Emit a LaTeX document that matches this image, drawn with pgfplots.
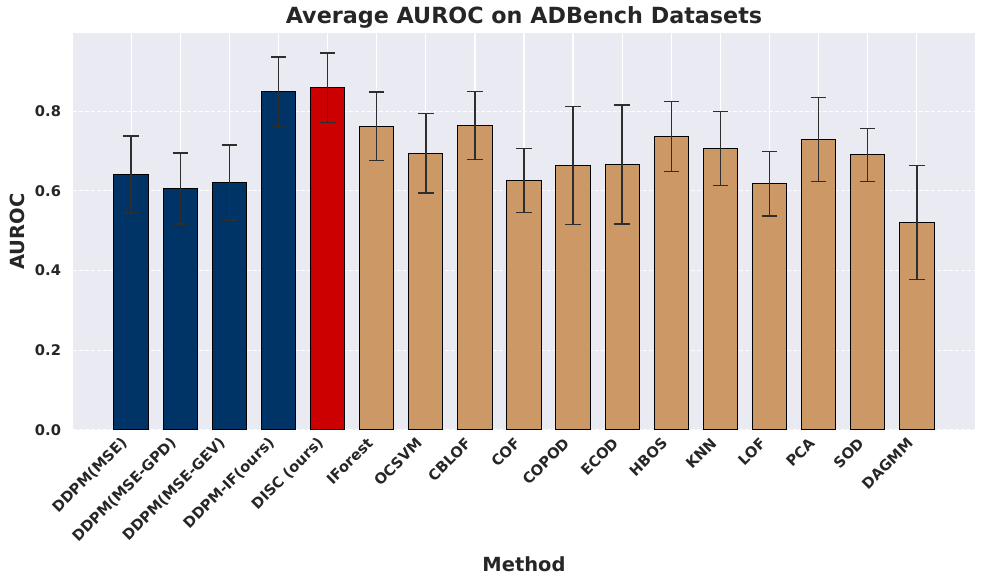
\documentclass[border=0pt]{standalone}
\usepackage{pgfplots}
\pgfplotsset{compat=1.18}
\usepackage{fontspec}
\setmainfont{DejaVu Sans}
\definecolor{bg}{HTML}{EAEAF2}
\definecolor{navy}{HTML}{003366}
\definecolor{redc}{HTML}{CC0000}
\definecolor{tan}{HTML}{CC9966}
\definecolor{errc}{HTML}{2E2E2E}
\begin{document}
\begin{tikzpicture}
\path[use as bounding box] (-54.75pt,-116.25pt) rectangle (684pt,322.5pt);
\begin{axis}[
  at={(0,0)}, anchor=south west,
  scale only axis, width=676.5pt, height=297.75pt,
  axis background/.style={fill=bg},
  axis line style={draw=none},
  major tick length=0pt,
  xmin=-1.185, xmax=17.185, ymin=0, ymax=0.996,
  ybar, bar width=0.7, bar shift=0pt,
  xtick={0,...,16},
  xticklabels={DDPM(MSE),DDPM(MSE-GPD),DDPM(MSE-GEV),DDPM-IF(ours),DISC (ours),IForest,OCSVM,CBLOF,COF,COPOD,ECOD,HBOS,KNN,LOF,PCA,SOD,DAGMM},
  ytick={0,0.2,0.4,0.6,0.8},
  /pgf/number format/fixed, /pgf/number format/fixed zerofill, /pgf/number format/precision=1,
  /pgf/number format/assume math mode=true,
  ticklabel style={font=\fontsize{11}{13}\selectfont\bfseries, text=black!85},
  xticklabel style={xshift=-2.5pt, yshift=-5.5pt, rotate=45, anchor=east},
  yticklabel style={xshift=-5.5pt},
  xmajorgrids, ymajorgrids,
  major x grid style={white, line width=1pt},
  major y grid style={white!97!bg, line width=0.8pt, dash pattern=on 3pt off 1.5pt},
  xlabel={Method}, ylabel={AUROC},
  title={Average AUROC on ADBench Datasets},
  label style={font=\fontsize{14.6}{16}\selectfont\bfseries, text=black!85},
  xlabel style={at={(axis description cs:0.5,-0.3552)}, anchor=base},
  ylabel style={at={(axis description cs:-0.0535,0.5)}, anchor=base},
  title style={at={(axis description cs:0.5,1.0025)}, anchor=base, font=\fontsize{16.7}{18}\selectfont\bfseries, text=black!85},
  every axis plot/.append style={draw=black, line width=0.75pt},
  error bars/y dir=both, error bars/y explicit,
  error bars/error bar style={errc, line width=1.1pt},
  error bars/error mark options={errc, line width=1.1pt, mark size=5.8pt, rotate=90},
]
\addplot[fill=navy] coordinates {
 (0,0.641) +- (0,0.097)
 (1,0.606) +- (0,0.089)
 (2,0.621) +- (0,0.094)
 (3,0.849) +- (0,0.087)
};
\addplot[fill=redc] coordinates {
 (4,0.859) +- (0,0.087)
};
\addplot[fill=tan] coordinates {
 (5,0.762) +- (0,0.086)
 (6,0.694) +- (0,0.100)
 (7,0.764) +- (0,0.085)
 (8,0.626) +- (0,0.080)
 (9,0.664) +- (0,0.148)
 (10,0.666) +- (0,0.149)
 (11,0.736) +- (0,0.088)
 (12,0.706) +- (0,0.093)
 (13,0.618) +- (0,0.081)
 (14,0.729) +- (0,0.105)
 (15,0.690) +- (0,0.067)
 (16,0.520) +- (0,0.143)
};
\end{axis}
\end{tikzpicture}
\end{document}
